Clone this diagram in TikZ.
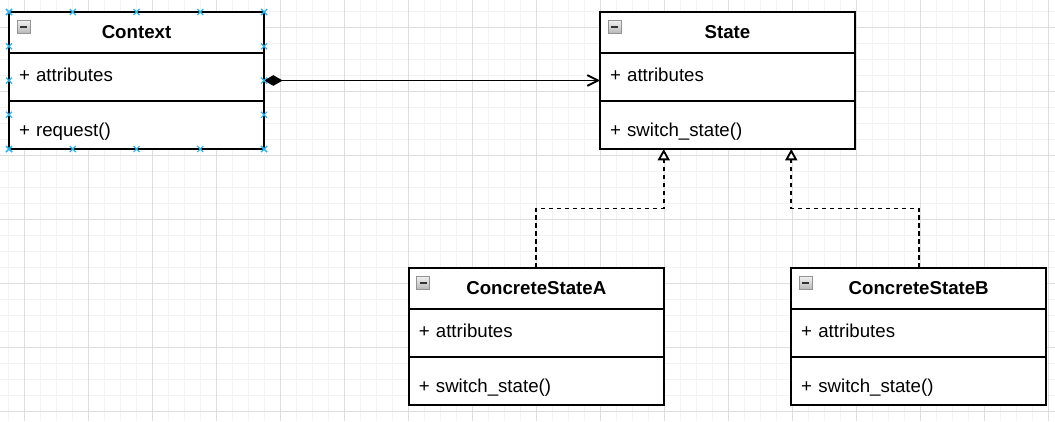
\documentclass[tikz,border=0pt]{standalone}
\usepackage{fontspec}
\setmainfont{Liberation Sans}
\usepackage{tikz}
\usetikzlibrary{positioning,calc,arrows.meta}
\usepackage{xcolor}

\definecolor{finegrid}{HTML}{F3F3F3}
\definecolor{boldgrid}{HTML}{DEDEDE}
\definecolor{gripblue}{HTML}{29B6F2}

\tikzset{
  classhead/.style={draw, fill=white, line width=1.1pt, outer sep=0pt,
    minimum width=191.25pt, minimum height=30.75pt,
    font=\fontsize{14}{17}\selectfont\bfseries},
  classpart/.style={draw, fill=white, line width=1.1pt, outer sep=0pt,
    minimum width=191.25pt, minimum height=36pt, inner xsep=7.5pt,
    text width=176.25pt, align=left, text height=10pt, text depth=3pt,
    font=\fontsize{14}{17}\selectfont},
  methodpart/.style={classpart, text height=20pt},
  compose/.style={line width=1.4pt,
    {Diamond[length=14pt,width=8pt]}-{Straight Barb[length=8pt,width=8pt]}},
  realize/.style={line width=1.4pt, dash pattern=on 3.5pt off 2.5pt,
    -{Triangle[open,fill=white,length=8.5pt,width=9pt]}},
  gridfine/.style={draw=finegrid, line width=0.75pt},
  gridbold/.style={draw=boldgrid, line width=0.75pt},
  grip/.style={draw=gripblue, line width=0.8pt},
  iconbox/.style={draw=gray!85, top color=gray!10, bottom color=gray!55, line width=0.6pt},
  iconbar/.style={draw=black!80, line width=1.5pt}
}

\begin{document}
\begin{tikzpicture}[x=0.75pt,y=-0.75pt]
        \useasboundingbox (0,0) rectangle (1055,421);
        \fill[white] (0,0) rectangle (1055,421);

        % background grid
        \foreach \gx in {8,24,...,1048} \draw[gridfine] (\gx,0) -- (\gx,421);
        \foreach \gy in {11.3,27.3,...,411.3} \draw[gridfine] (0,\gy) -- (1055,\gy);
        \foreach \gx in {24,88,...,1048} \draw[gridbold] (\gx,0) -- (\gx,421);
        \foreach \gy in {27.3,91.3,...,411.3} \draw[gridbold] (0,\gy) -- (1055,\gy);

        % classes
        \node[classhead, anchor=north west] (ctxH) at (9,12)                  {Context};
        \node[classpart]                    (ctxA) [below=0pt of ctxH]        {+ attributes};
        \node[methodpart]                   (ctxM) [below=0pt of ctxA]        {+ request()};

        \node[classhead]                    (stH)  [right=252pt of ctxH]      {State};
        \node[classpart]                    (stA)  [below=0pt of stH]         {+ attributes};
        \node[methodpart]                   (stM)  [below=0pt of stA]         {+ switch\_state()};

        \node[classhead]  (csaH) [below=89.25pt of stM, xshift=-143.4pt] {ConcreteStateA};
        \node[classpart]  (csaA) [below=0pt of csaH]                     {+ attributes};
        \node[methodpart] (csaM) [below=0pt of csaA]                     {+ switch\_state()};

        \node[classhead]  (csbH) [below=89.25pt of stM, xshift=143.4pt]  {ConcreteStateB};
        \node[classpart]  (csbA) [below=0pt of csbH]                     {+ attributes};
        \node[methodpart] (csbM) [below=0pt of csbA]                     {+ switch\_state()};

        % collapse icons
        \foreach \n in {ctxH,stH,csaH,csbH} {
          \path[iconbox] ([shift={(8,8)}]\n.north west) rectangle +(13,13);
          \draw[iconbar] ([shift={(11,14.5)}]\n.north west) -- +(7,0);
        }

        % connectors
        \coordinate (ctxE) at ($(ctxH.north east)!.5!(ctxM.south east)$);
        \coordinate (stW)  at ($(stH.north west)!.5!(stM.south west)$);
        \coordinate (stQ1) at ($(stM.south west)!.25!(stM.south east)$);
        \coordinate (stQ3) at ($(stM.south west)!.75!(stM.south east)$);

        \draw[compose] (ctxE) -- (stW);
        \draw[realize] (csaH.north) |- ($(csaH.north)!.5!(stQ1)$) -| (stQ1);
        \draw[realize] (csbH.north) |- ($(csbH.north)!.5!(stQ3)$) -| (stQ3);

        % selection grips on Context
        \foreach \a/\b in {ctxH.north west/ctxH.north east, ctxM.south west/ctxM.south east,
                           ctxH.north west/ctxM.south west, ctxH.north east/ctxM.south east}
          \foreach \f in {0,.25,.5,.75,1}
            \draw[grip] ($(\a)!\f!(\b)$) +(-3,-3) -- +(3,3) +(-3,3) -- +(3,-3);

    \end{tikzpicture}
\end{document}
